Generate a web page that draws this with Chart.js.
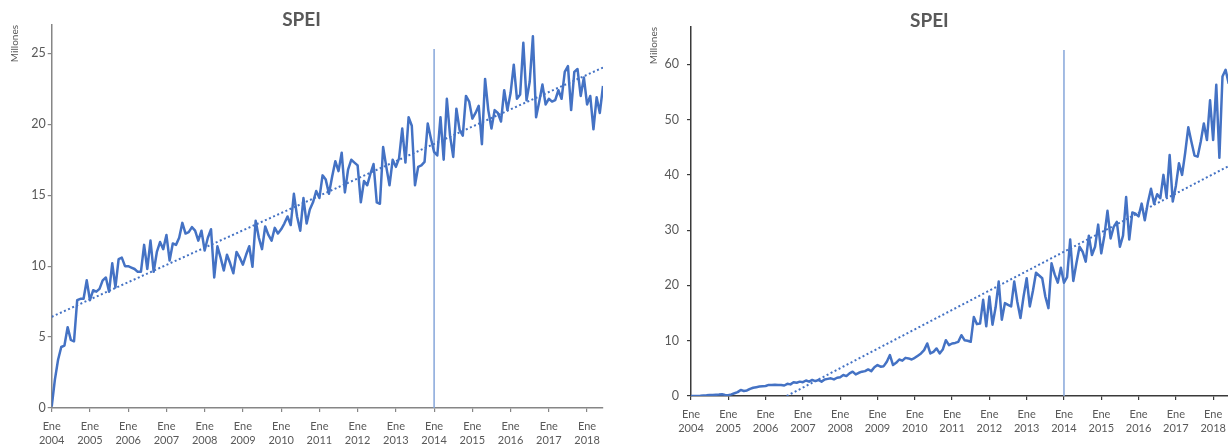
<!DOCTYPE html>
<html><head><meta charset="utf-8">
<script src="https://cdn.jsdelivr.net/npm/chart.js@4.4.0/dist/chart.umd.min.js"></script>
<style>
html,body{margin:0;padding:0;background:#fff;overflow:hidden;width:1228px;height:447px;position:relative;}
#c1{position:absolute;left:0;top:0;}
#c2{position:absolute;left:630px;top:0;}
</style></head><body>
<canvas id="c1" width="628" height="447"></canvas>
<canvas id="c2" width="632" height="447"></canvas>
<script>
const chartTitle = 'SPEI';
const unitLabel = 'Millones';
const monthPrefix = 'Ene';
const yearLabels = ['2004','2005','2006','2007','2008','2009','2010','2011','2012','2013','2014','2015','2016','2017','2018'];

const leftValues = [
0.1,2.0,3.4,4.3,4.4,5.7,4.8,4.7,7.6,7.7,7.7,9.0,
7.6,8.3,8.2,8.4,9.0,9.2,8.2,10.2,8.5,10.5,10.6,10.0,
10.0,9.9,9.8,9.6,9.6,11.5,9.8,11.8,9.6,11.0,11.7,11.2,
12.2,10.4,11.6,11.5,12.0,13.05,12.3,12.4,12.75,12.5,11.8,12.5,
11.1,12.0,12.6,9.2,11.4,10.6,9.7,10.8,10.2,9.5,11.0,10.6,
10.1,10.8,11.4,9.95,13.2,12.0,11.2,12.8,12.2,11.8,12.7,12.3,
12.6,13.0,13.5,12.9,15.1,13.5,12.5,14.8,13.0,14.0,14.5,15.3,
14.8,16.4,16.1,15.1,16.3,17.4,16.7,18.0,15.2,16.8,17.5,17.3,
17.1,14.5,16.0,15.7,16.5,17.2,14.5,14.4,18.4,17.0,15.7,17.5,
17.0,17.6,19.7,17.3,20.5,19.9,15.7,17.0,17.1,17.35,20.05,19.0,
18.05,17.8,20.5,17.5,21.8,19.2,17.7,21.1,19.6,19.2,22.0,21.6,
20.4,20.8,21.3,18.6,23.2,21.0,19.7,21.0,20.8,20.2,22.4,21.0,
22.2,24.2,21.8,22.1,25.75,21.7,23.0,26.2,20.5,21.6,22.8,21.4,
21.8,21.6,21.7,22.4,21.8,23.7,24.1,21.0,23.7,23.9,22.0,23.3,
21.4,22.0,19.65,21.9,20.8,22.7
];

const rightValues = [
0.0,0.0,0.02,0.05,0.1,0.12,0.18,0.2,0.22,0.25,0.3,0.2,
0.15,0.3,0.5,0.7,1.1,0.9,1.0,1.3,1.5,1.6,1.7,1.75,
1.8,2.0,2.0,2.05,2.0,2.0,1.9,2.2,2.1,2.5,2.4,2.6,
2.5,2.8,2.6,2.9,2.7,2.9,2.6,3.0,3.1,3.2,3.0,3.3,
3.4,3.8,3.6,4.1,4.4,3.9,4.2,4.4,4.5,4.8,4.5,5.2,
5.6,5.3,5.4,6.2,7.4,5.6,6.0,6.6,6.4,6.9,6.8,6.6,
6.9,7.3,7.7,8.3,9.5,7.7,8.0,8.6,7.7,8.4,10.1,9.2,
9.5,9.6,9.8,11.0,10.1,10.0,9.8,14.3,13.0,13.1,17.4,12.6,
18.0,12.9,16.0,20.7,13.8,16.8,16.5,16.2,20.7,17.0,14.1,18.0,
21.3,16.2,19.0,22.3,21.8,21.3,18.0,15.9,24.0,22.0,20.5,23.2,
20.5,21.5,28.3,20.8,24.0,27.0,26.1,24.3,29.0,25.5,27.0,31.0,
25.8,29.0,33.5,28.5,30.6,31.5,27.0,29.0,36.0,28.3,33.2,33.0,
32.5,34.8,31.8,35.0,37.5,34.8,36.5,35.8,40.0,36.0,43.6,35.2,
38.0,42.1,40.0,44.0,48.6,46.0,43.5,43.3,46.0,49.3,46.3,53.5,
46.3,56.3,43.1,57.8,59.0,56.5
];

const leftTrendX = [0, 173];
const leftTrendY = [6.43, 24.0];
const rightTrendX = [30.8, 173];
const rightTrendY = [0, 41.6];
const markerX = [120, 120];
const leftMarkerY = [0, 25.3];
const rightMarkerY = [0, 62.6];
const leftYTicks = [0, 5, 10, 15, 20, 25];
const rightYTicks = [0, 10, 20, 30, 40, 50, 60];

const FONT = 'Lato, "Open Sans", sans-serif';
const TXT = '#595959';
const BLUE = '#4472C4';

function pts(xs, ys) { return xs.map((x, i) => ({x: x, y: ys[i]})); }

function makeChart(id, cfg) {
  const series = cfg.values.map((v, i) => ({x: i, y: v}));
  return new Chart(document.getElementById(id), {
    type: 'line',
    data: {
      datasets: [
        {data: series, borderColor: BLUE, borderWidth: 2.5, pointRadius: 0, tension: 0, fill: false, borderJoinStyle: 'round'},
        {data: pts(cfg.trendX, cfg.trendY), borderColor: BLUE, borderWidth: 2, borderDash: [2, 2.5], pointRadius: 0, fill: false},
        {data: pts(markerX, cfg.markerY), borderColor: '#86A6DA', borderWidth: 1.5, pointRadius: 0, fill: false}
      ]
    },
    options: {
      responsive: false,
      animation: false,
      devicePixelRatio: 1,
      layout: {padding: {left: 0, right: cfg.padRight, top: 0, bottom: 0}},
      plugins: {
        legend: {display: false},
        tooltip: {enabled: false},
        title: {
          display: true, text: chartTitle, color: TXT,
          font: {family: FONT, size: 19, weight: 'bold', lineHeight: '10px'},
          padding: {top: cfg.titleTop, bottom: cfg.titleBottom}
        }
      },
      scales: {
        x: {
          type: 'linear', min: 0, max: 173,
          afterBuildTicks: s => { s.ticks = yearLabels.map((_, i) => ({value: i * 12})); },
          afterFit: s => { s.height = cfg.xHeight; },
          grid: {drawOnChartArea: false, drawTicks: true, tickLength: 4, color: cfg.axisColor, lineWidth: 1.2},
          border: {display: true, color: cfg.axisColor, width: 1.5},
          ticks: {
            autoSkip: false, maxRotation: 0, minRotation: 0, padding: 7, color: TXT,
            font: {family: FONT, size: 11, lineHeight: '14px'},
            callback: (v, i) => [monthPrefix, yearLabels[i]]
          }
        },
        y: {
          type: 'linear', min: 0, max: cfg.yMax,
          afterBuildTicks: s => { s.ticks = cfg.yTicks.map(v => ({value: v})); },
          afterFit: s => { s.width = cfg.yWidth; },
          grid: {drawOnChartArea: false, drawTicks: true, tickLength: 4, color: cfg.axisColor, lineWidth: 1.2},
          border: {display: true, color: cfg.axisColor, width: 1.5},
          ticks: {padding: cfg.yPad, color: TXT, font: {family: FONT, size: 12.5}},
          title: {display: true, text: unitLabel, align: 'end', color: TXT,
            font: {family: FONT, size: 10}, padding: {top: cfg.unitTop, bottom: 0}}
        }
      }
    }
  });
}

makeChart('c1', {
  values: leftValues, trendX: leftTrendX, trendY: leftTrendY, markerY: leftMarkerY,
  yMax: 27, yTicks: leftYTicks, yWidth: 51.7, xHeight: 39, padRight: 25,
  titleTop: 15, titleBottom: 0, unitTop: 9, yPad: 2, axisColor: '#868686'
});
makeChart('c2', {
  values: rightValues, trendX: rightTrendX, trendY: rightTrendY, markerY: rightMarkerY,
  yMax: 66.75, yTicks: rightYTicks, yWidth: 61, xHeight: 51, padRight: 33.3,
  titleTop: 16, titleBottom: 1, unitTop: 18, yPad: 8, axisColor: '#3a3a3a'
});
</script>
</body></html>
